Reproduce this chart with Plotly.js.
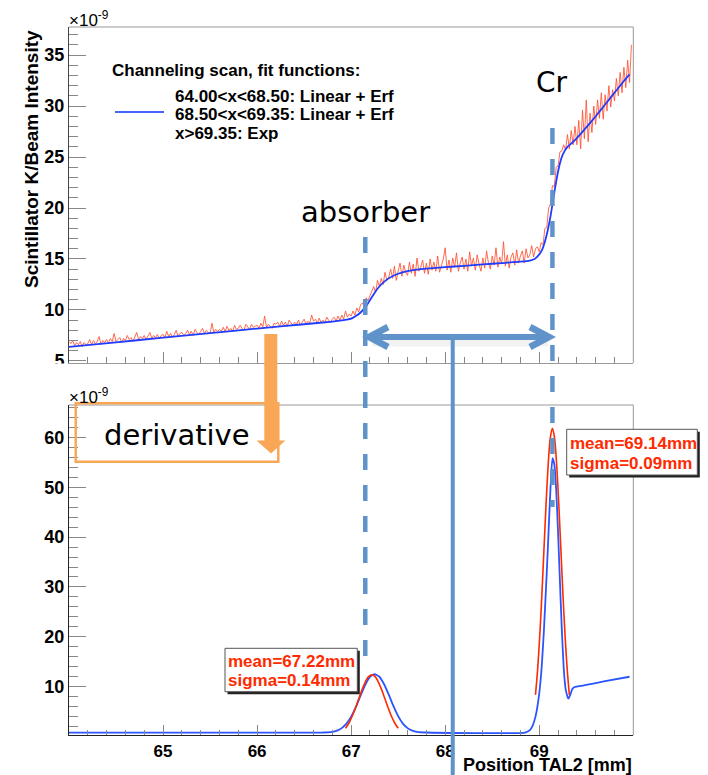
<!DOCTYPE html>
<html>
<head>
<meta charset="utf-8">
<script src="https://cdn.plot.ly/plotly-3.0.1.min.js"></script>
<style>
  html, body { margin: 0; padding: 0; background: #ffffff; }
  #chart { width: 708px; height: 775px; }
</style>
</head>
<body>
<div id="chart"></div>
<script>
// ---------- channeling scan: measured signal, 0.02 mm bins starting at 64.00 mm ----------
const scanStart = 64.0;
const scanStep = 0.02;
const scanSignal = [
  6.9, 6.7, 7.0, 6.5, 6.8, 6.6, 6.9, 6.4, 6.8, 6.6,
  6.7, 7.1, 6.6, 7.0, 6.7, 6.9, 7.4, 6.6, 7.0, 6.8,
  7.1, 6.8, 7.2, 6.9, 7.7, 6.9, 7.1, 7.3, 6.8, 7.2,
  7.0, 7.5, 7.1, 7.3, 6.9, 7.4, 7.8, 7.1, 7.4, 7.2,
  7.5, 7.1, 7.4, 7.8, 7.2, 7.5, 7.3, 7.6, 7.2, 7.5,
  7.6, 7.3, 7.9, 7.4, 7.7, 7.3, 7.6, 8.0, 7.4, 7.7,
  7.8, 7.5, 7.7, 8.0, 7.6, 7.9, 7.5, 8.1, 7.8, 7.6,
  7.9, 8.2, 7.7, 8.0, 7.8, 7.7, 8.7, 7.8, 8.1, 7.9,
  8.1, 7.9, 8.3, 7.9, 8.4, 8.0, 8.2, 7.9, 8.5, 8.1,
  8.2, 8.5, 8.2, 8.0, 8.6, 8.3, 8.1, 8.6, 8.3, 8.4,
  8.5, 8.2, 8.7, 8.3, 9.4, 8.3, 8.6, 8.4, 8.2, 8.7,
  8.6, 8.8, 8.4, 8.9, 8.5, 8.8, 8.4, 9.0, 8.7, 8.5,
  8.8, 8.6, 9.0, 8.5, 8.8, 9.1, 8.6, 8.9, 8.7, 9.5,
  8.9, 9.1, 8.7, 9.2, 8.8, 9.0, 8.7, 9.3, 9.0, 8.8,
  9.1, 9.3, 8.9, 9.4, 9.0, 9.5, 9.1, 9.9, 9.3, 9.6,
  9.4, 9.9, 9.5, 10.2, 9.8, 10.5, 10.7, 10.3, 11.2, 10.9,
  11.4, 11.8, 12.3, 11.7, 12.9, 12.3, 13.1, 12.5, 13.7, 12.9,
  13.2, 14.0, 13.1, 14.3, 12.9, 13.8, 14.6, 13.3, 14.4, 13.7,
  13.4, 14.7, 13.6, 14.5, 13.3, 15.1, 13.8, 14.2, 14.9, 13.6,
  14.6, 13.5, 15.0, 13.9, 14.7, 13.8, 15.3, 13.7, 14.4, 15.0,
  16.1, 13.9, 14.9, 13.7, 15.1, 14.2, 15.6, 13.8, 14.6, 15.2,
  14.0, 15.0, 13.8, 15.7, 14.3, 15.1, 13.9, 15.4, 14.5, 13.8,
  15.1, 14.1, 15.8, 14.6, 14.0, 15.3, 14.4, 16.1, 14.2, 15.2,
  14.5, 16.7, 14.3, 15.4, 14.1, 15.2, 15.6, 14.4, 15.9, 14.6,
  15.3, 15.8, 14.6, 16.0, 15.1, 15.4, 16.3, 15.2, 16.0, 16.2,
  15.7, 16.6, 16.4, 18.0, 18.1, 20.0, 20.4, 22.2, 22.1, 24.0,
  24.1, 25.5, 25.6, 26.2, 25.7, 27.2, 25.8, 27.6, 26.2, 28.0,
  26.2, 28.6, 25.8, 29.6, 26.8, 30.6, 26.5, 29.3, 27.4, 30.0,
  28.2, 30.6, 28.8, 31.3, 28.7, 31.1, 29.5, 32.0, 29.9, 31.6,
  30.5, 32.7, 31.0, 33.3, 31.3, 33.8, 31.8, 34.5, 32.3, 36.0
];

// ---------- combined fit (Linear+Erf, Linear+Erf, Exp) ----------
const fitX = [64.0, 64.5, 65.0, 65.5, 66.0, 66.5, 66.8, 66.9, 66.95, 67.0, 67.05, 67.1, 67.15, 67.2,
  67.25, 67.3, 67.35, 67.4, 67.45, 67.5, 67.6, 67.7, 67.8, 68.0, 68.2, 68.4, 68.6, 68.8, 68.9,
  68.95, 69.0, 69.03, 69.06, 69.09, 69.12, 69.15, 69.18, 69.21, 69.24, 69.27, 69.3, 69.35,
  69.4, 69.5, 69.6, 69.7, 69.8, 69.9, 69.96];
const fitY = [6.38, 6.83, 7.28, 7.73, 8.18, 8.6, 8.86, 8.97, 9.05, 9.15, 9.4, 9.75, 10.25, 10.95,
  11.7, 12.3, 12.75, 13.1, 13.35, 13.55, 13.8, 13.95, 14.05, 14.2, 14.33, 14.47, 14.6, 14.74, 14.85,
  15.0, 15.45, 15.9, 16.7, 17.8, 19.2, 20.9, 22.6, 24.0, 25.0, 25.6, 26.0, 26.4,
  26.85, 27.9, 29.0, 30.15, 31.3, 32.45, 33.1];

// ---------- derivative of the fit ----------
const derivX = [64.0, 66.7, 66.8, 66.85, 66.9, 66.95, 67.0, 67.05, 67.1, 67.15, 67.2, 67.25, 67.3,
  67.35, 67.4, 67.45, 67.5, 67.55, 67.6, 67.65, 67.7, 67.8, 68.85, 68.9, 68.93, 68.96, 68.99,
  69.02, 69.05, 69.08, 69.1, 69.12, 69.14, 69.16, 69.18, 69.2, 69.22, 69.24, 69.26, 69.28,
  69.3, 69.31, 69.33, 69.35, 69.37, 69.5, 69.7, 69.96];
const derivY = [0.8, 0.82, 0.95, 1.2, 1.7, 2.6, 4.0, 5.9, 8.2, 10.4, 12.0, 12.5, 12.0,
  10.5, 8.4, 6.1, 4.1, 2.6, 1.7, 1.2, 0.95, 0.82, 0.82, 1.3, 2.2, 4.0, 7.2,
  12.5, 21.5, 33.0, 41.5, 50.0, 55.8, 54.6, 49.5, 41.0, 31.0, 21.5, 13.8, 9.6,
  8.0, 7.6, 8.4, 9.5, 9.9, 10.35, 11.1, 12.0];

// ---------- gaussian fits to the two derivative peaks ----------
const peak1Mean = 67.22, peak1Sigma = 0.14;
const peak1X = [66.94, 66.975, 67.01, 67.045, 67.08, 67.115, 67.15, 67.185, 67.22,
  67.255, 67.29, 67.325, 67.36, 67.395, 67.43, 67.465, 67.50];
const peak1Y = [1.68, 2.68, 4.03, 5.68, 7.52, 9.36, 10.94, 12.02, 12.4,
  12.02, 10.94, 9.36, 7.52, 5.68, 4.03, 2.68, 1.68];
const peak2Mean = 69.14, peak2Sigma = 0.09;
const peak2X = [68.96, 68.9825, 69.005, 69.0275, 69.05, 69.0725, 69.095, 69.1175, 69.14,
  69.1625, 69.185, 69.2075, 69.23, 69.2525, 69.275, 69.2975, 69.32];
const peak2Y = [8.36, 13.37, 20.07, 28.29, 37.48, 46.65, 54.54, 59.90, 61.8,
  59.90, 54.54, 46.65, 37.48, 28.29, 20.07, 13.37, 8.36];

// ---------- axis ticks and labels ----------
const xTickVals = [65, 66, 67, 68, 69];
const legendTitle = 'Channeling scan, fit functions:';
const legendLines = ['64.00&lt;x&lt;68.50: Linear + Erf', '68.50&lt;x&lt;69.35: Linear + Erf', 'x&gt;69.35: Exp'];
const yTitleTop = 'Scintillator K/Beam Intensity';
const xTitleBottom = 'Position TAL2 [mm]';
const peakLabels = [
  ['mean=' + peak1Mean.toFixed(2) + 'mm', 'sigma=' + peak1Sigma.toFixed(2) + 'mm'],
  ['mean=' + peak2Mean.toFixed(2) + 'mm', 'sigma=' + peak2Sigma.toFixed(2) + 'mm']
];
const absorberEdge = 67.15, crEdge = peak2Mean, midPoint = 68.08;

// ---------- page geometry helpers (pixels -> paper) ----------
const W = 708, H = 775;
const PX = v => v / W;
const PY = v => 1 - v / H;

const AXIS_FONT = 'Liberation Sans, Arial, Helvetica, sans-serif';
const HAND_FONT = 'DejaVu Sans, Verdana, sans-serif';
const STEEL = '#5f93c9';
const ORANGE = '#f9a757';
const RED = '#ff2a00';

const traces = [
  { type: 'scatter', mode: 'lines', x0: scanStart, dx: scanStep, y: scanSignal,
    xaxis: 'x', yaxis: 'y', line: { color: 'rgba(255,80,50,0.85)', width: 1 }, hoverinfo: 'skip' },
  { type: 'scatter', mode: 'lines', x: fitX, y: fitY, xaxis: 'x', yaxis: 'y',
    line: { color: '#1f3cff', width: 1.8, shape: 'spline', smoothing: 0.6 }, hoverinfo: 'skip' },
  { type: 'scatter', mode: 'lines', x: derivX, y: derivY, xaxis: 'x2', yaxis: 'y2',
    line: { color: '#2b55ff', width: 1.8, shape: 'spline', smoothing: 0.5 }, hoverinfo: 'skip' },
  { type: 'scatter', mode: 'lines', x: peak1X, y: peak1Y, xaxis: 'x2', yaxis: 'y2',
    line: { color: RED, width: 1.6, shape: 'spline', smoothing: 0.8 }, hoverinfo: 'skip' },
  { type: 'scatter', mode: 'lines', x: peak2X, y: peak2Y, xaxis: 'x2', yaxis: 'y2',
    line: { color: RED, width: 1.6, shape: 'spline', smoothing: 0.8 }, hoverinfo: 'skip' }
];

const xDomain = [PX(69), PX(633.3)];
const tickFont = { family: AXIS_FONT, size: 18, color: '#000', weight: 'bold' };

const baseX = {
  domain: xDomain, range: [64, 70], tickmode: 'array', tickvals: xTickVals,
  ticks: 'inside', tickcolor: '#888', tickwidth: 1,
  minor: { ticks: 'inside', tickmode: 'linear', dtick: 0.2, tick0: 64, tickcolor: '#888', tickwidth: 1 },
  showgrid: false, zeroline: false, showline: true, linewidth: 1
};

const layout = {
  width: W, height: H,
  margin: { l: 0, r: 0, t: 0, b: 0 },
  paper_bgcolor: '#ffffff', plot_bgcolor: '#ffffff',
  showlegend: false,
  xaxis: Object.assign({}, baseX, {
    anchor: 'y', showticklabels: false, ticklen: 11, linecolor: '#999',
    minor: Object.assign({}, baseX.minor, { ticklen: 6 })
  }),
  yaxis: {
    domain: [PY(363), PY(27)], range: [4.8, 37.75], anchor: 'x',
    tickmode: 'linear', tick0: 5, dtick: 5, ticks: 'inside', ticklen: 17,
    tickcolor: '#888', tickwidth: 1, tickfont: tickFont,
    minor: { ticks: 'inside', dtick: 1, tick0: 5, ticklen: 9, tickcolor: '#888', tickwidth: 1 },
    showgrid: false, zeroline: false, showline: true, linecolor: '#444', linewidth: 1
  },
  xaxis2: Object.assign({}, baseX, {
    anchor: 'y2', showticklabels: true, ticklen: 10, linecolor: '#222',
    tickfont: { family: AXIS_FONT, size: 17, color: '#000', weight: 'bold' },
    minor: Object.assign({}, baseX.minor, { ticklen: 5 })
  }),
  yaxis2: {
    domain: [PY(735.3), PY(405)], range: [0.26, 66.48], anchor: 'x2',
    tickmode: 'linear', tick0: 0, dtick: 10, ticks: 'inside', ticklen: 17,
    tickcolor: '#888', tickwidth: 1, tickfont: tickFont,
    minor: { ticks: 'inside', dtick: 2, tick0: 0, ticklen: 9, tickcolor: '#888', tickwidth: 1 },
    showgrid: false, zeroline: false, showline: true, linecolor: '#222', linewidth: 1
  },
  shapes: [],
  annotations: []
};

const S = layout.shapes, A = layout.annotations;

// frame edges (top / right) of both pads
[['x', 'y'], ['x2', 'y2']].forEach(([xa, ya]) => {
  S.push({ type: 'line', xref: xa + ' domain', yref: ya + ' domain', x0: 0, x1: 1, y0: 1, y1: 1, line: { color: '#999', width: 1 } });
  S.push({ type: 'line', xref: xa + ' domain', yref: ya + ' domain', x0: 1, x1: 1, y0: 0, y1: 1, line: { color: '#999', width: 1 } });
});

// upper pad ends just below its lowest label
S.push({ type: 'rect', xref: 'paper', yref: 'paper', x0: 0, x1: PX(67), y0: PY(374), y1: PY(363.5),
  fillcolor: '#ffffff', line: { width: 0 } });

// legend line sample
S.push({ type: 'line', xref: 'paper', yref: 'paper', x0: PX(115), x1: PX(164), y0: PY(112), y1: PY(112),
  line: { color: '#4466ff', width: 2 } });

// dashed edge markers
S.push({ type: 'line', xref: 'x', yref: 'paper', x0: absorberEdge, x1: absorberEdge, y0: PY(237), y1: PY(665),
  line: { color: STEEL, width: 4.5, dash: '16px,15px' } });
S.push({ type: 'line', xref: 'x', yref: 'paper', x0: crEdge, x1: crEdge, y0: PY(128), y1: PY(507),
  line: { color: STEEL, width: 4.5, dash: '16px,15px' } });

// double arrow between the two edges, with a soft shadow
const arrowY = 337;
const pathOf = pts => pts.map((p, i) => (i ? 'L' : 'M') + PX(p[0]) + ',' + PY(p[1])).join(' ');
S.push({ type: 'path', xref: 'paper', yref: 'paper', path: pathOf([[372, arrowY + 5], [548, arrowY + 5]]),
  line: { color: 'rgba(0,0,0,0.05)', width: 9 } });
S.push({ type: 'path', xref: 'paper', yref: 'paper', path: pathOf([[369, arrowY], [549, arrowY]]),
  line: { color: STEEL, width: 6 } });
S.push({ type: 'path', xref: 'paper', yref: 'paper', path: pathOf([[388, arrowY - 10], [369, arrowY], [388, arrowY + 10]]),
  line: { color: STEEL, width: 6.5 } });
S.push({ type: 'path', xref: 'paper', yref: 'paper', path: pathOf([[530, arrowY - 10], [549, arrowY], [530, arrowY + 10]]),
  line: { color: STEEL, width: 6.5 } });
S.push({ type: 'line', xref: 'x', yref: 'paper', x0: midPoint, x1: midPoint, y0: PY(arrowY), y1: PY(780),
  line: { color: STEEL, width: 4 } });

// "derivative" box and orange arrow
S.push({ type: 'rect', xref: 'paper', yref: 'paper', x0: PX(75.7), x1: PX(278.3), y0: PY(461.7), y1: PY(403.3),
  line: { color: ORANGE, width: 2.5 } });
S.push({ type: 'rect', xref: 'paper', yref: 'paper', x0: PX(264.3), x1: PX(277.3), y0: PY(441), y1: PY(334),
  fillcolor: ORANGE, line: { width: 0 } });
S.push({ type: 'path', xref: 'paper', yref: 'paper', path: pathOf([[256.5, 440.5], [285.5, 440.5], [271, 453.5]]) + ' Z',
  fillcolor: ORANGE, line: { width: 0 } });

// fit result boxes
const boxes = [
  { x0: 225, x1: 357.3, y0: 648.3, y1: 691.7, labels: peakLabels[0] },
  { x0: 566.7, x1: 697.3, y0: 429.3, y1: 475, labels: peakLabels[1] }
];
boxes.forEach(b => {
  S.push({ type: 'rect', xref: 'paper', yref: 'paper', x0: PX(b.x0 + 2.5), x1: PX(b.x1 + 2.5), y0: PY(b.y1 + 2.5), y1: PY(b.y0 + 2.5),
    fillcolor: '#222', line: { width: 0 } });
  S.push({ type: 'rect', xref: 'paper', yref: 'paper', x0: PX(b.x0), x1: PX(b.x1), y0: PY(b.y1), y1: PY(b.y0),
    fillcolor: '#ffffff', line: { color: '#555', width: 1 } });
  const h = b.y1 - b.y0;
  b.labels.forEach((t, i) => {
    A.push({ xref: 'paper', yref: 'paper', x: PX(b.x0 + 1), y: PY(b.y0 + h * (i === 0 ? 0.31 : 0.74)),
      xanchor: 'left', yanchor: 'middle', showarrow: false, text: t,
      font: { family: AXIS_FONT, size: 17, color: RED, weight: 'bold' } });
  });
});

// exponent labels
[19, 396].forEach(yy => {
  A.push({ xref: 'paper', yref: 'paper', x: PX(67), y: PY(yy), xanchor: 'left', yanchor: 'middle', showarrow: false,
    text: '×10<sup>-9</sup>', font: { family: AXIS_FONT, size: 17, color: '#000' } });
});

// axis titles
A.push({ xref: 'paper', yref: 'paper', x: PX(31), y: PY(28), xanchor: 'center', yanchor: 'top', textangle: -90,
  showarrow: false, text: yTitleTop, font: { family: AXIS_FONT, size: 19, color: '#000', weight: 'bold' } });
A.push({ xref: 'paper', yref: 'paper', x: PX(634), y: PY(764.5), xanchor: 'right', yanchor: 'middle',
  showarrow: false, text: xTitleBottom, font: { family: AXIS_FONT, size: 18, color: '#000', weight: 'bold' } });

// legend text
A.push({ xref: 'paper', yref: 'paper', x: PX(110), y: PY(70), xanchor: 'left', yanchor: 'middle', showarrow: false,
  text: legendTitle, font: { family: AXIS_FONT, size: 17, color: '#000', weight: 'bold' } });
legendLines.forEach((t, i) => {
  A.push({ xref: 'paper', yref: 'paper', x: PX(173), y: PY(96 + i * 18.5), xanchor: 'left', yanchor: 'middle',
    showarrow: false, text: t, font: { family: AXIS_FONT, size: 17, color: '#000', weight: 'bold' } });
});

// hand-written notes
A.push({ xref: 'paper', yref: 'paper', x: PX(365), y: PY(212), xanchor: 'center', yanchor: 'middle', showarrow: false,
  text: 'absorber', font: { family: HAND_FONT, size: 29, color: '#000' } });
A.push({ xref: 'paper', yref: 'paper', x: PX(552), y: PY(82), xanchor: 'center', yanchor: 'middle', showarrow: false,
  text: 'Cr', font: { family: HAND_FONT, size: 28, color: '#000' } });
A.push({ xref: 'paper', yref: 'paper', x: PX(177), y: PY(435), xanchor: 'center', yanchor: 'middle', showarrow: false,
  text: 'derivative', font: { family: HAND_FONT, size: 29, color: '#000' } });

Plotly.newPlot('chart', traces, layout, { displayModeBar: false, staticPlot: true });
</script>
</body>
</html>
